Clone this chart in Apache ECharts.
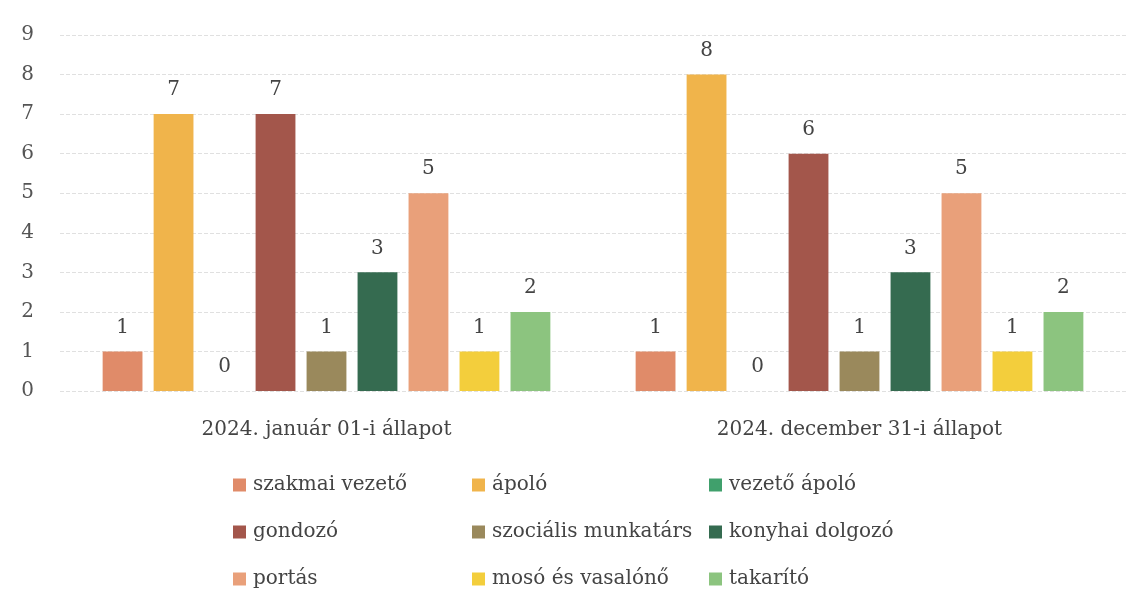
<!DOCTYPE html>
<html>
<head>
<meta charset="utf-8">
<script src="https://cdn.jsdelivr.net/npm/echarts@6/dist/echarts.min.js"></script>
<style>
html,body{margin:0;padding:0;background:#fff;}
#chart{width:1143px;height:609px;}
</style>
</head>
<body>
<div id="chart"></div>
<script>
var categories = ["2024. január 01-i állapot", "2024. december 31-i állapot"];
var seriesNames = ["szakmai vezető", "ápoló", "vezető ápoló", "gondozó", "szociális munkatárs",
  "konyhai dolgozó", "portás", "mosó és vasalónő", "takarító"];
var seriesValues = [
  [1, 1],
  [7, 8],
  [0, 0],
  [7, 6],
  [1, 1],
  [3, 3],
  [5, 5],
  [1, 1],
  [2, 2]
];
var colors = ["#E08B69", "#F0B44B", "#40A06C", "#A3564B", "#9A895C",
  "#356B50", "#E9A07A", "#F3CE3C", "#8CC47F"];
var yTicks = [0, 1, 2, 3, 4, 5, 6, 7, 8, 9];

var font = "'DejaVu Serif', 'Liberation Serif', serif";
var myChart = echarts.init(document.getElementById("chart"));

var series = seriesNames.map(function (name, i) {
  return {
    name: name,
    type: "bar",
    data: seriesValues[i],
    barGap: "28%",
    barCategoryGap: "16%",
    itemStyle: { color: colors[i] },
    label: {
      show: true,
      position: "top",
      distance: 14,
      fontFamily: font,
      fontSize: 20,
      color: "#444"
    }
  };
});

function legendCol(names, left) {
  return {
    orient: "vertical",
    left: left,
    top: 470,
    itemGap: 27,
    itemWidth: 13,
    itemHeight: 13,
    icon: "rect",
    data: names,
    textStyle: { fontFamily: font, fontSize: 20, color: "#444", padding: [0, 0, 0, 2] }
  };
}

var option = {
  animation: false,
  backgroundColor: "#fff",
  color: colors,
  grid: { left: 60, right: 17, top: 35, bottom: 218 },
  legend: [
    legendCol([seriesNames[0], seriesNames[3], seriesNames[6]], 228),
    legendCol([seriesNames[1], seriesNames[4], seriesNames[7]], 467),
    legendCol([seriesNames[2], seriesNames[5], seriesNames[8]], 704)
  ],
  xAxis: {
    type: "category",
    data: categories,
    axisLine: { show: false },
    axisTick: { show: false },
    axisLabel: { fontFamily: font, fontSize: 20, color: "#444", margin: 29 }
  },
  yAxis: {
    type: "value",
    min: yTicks[0],
    max: yTicks[yTicks.length - 1],
    interval: 1,
    axisLine: { show: false },
    axisTick: { show: false },
    axisLabel: { fontFamily: font, fontSize: 20, color: "#555", margin: 26 },
    splitLine: { lineStyle: { color: "#e0e0e0", type: "dashed" } }
  },
  series: series
};

myChart.setOption(option);
</script>
</body>
</html>
